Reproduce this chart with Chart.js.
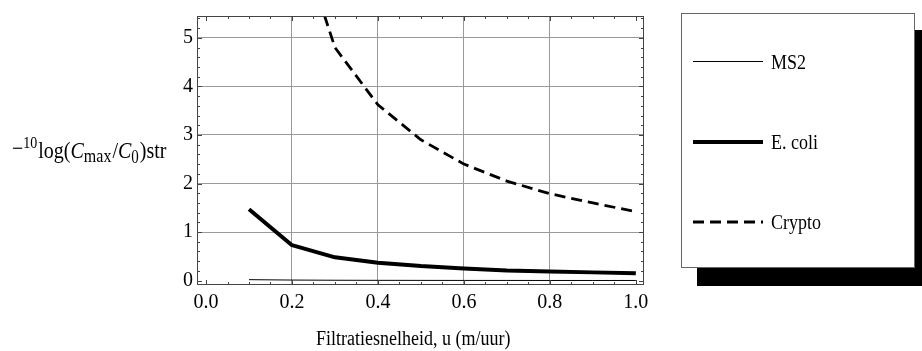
<!DOCTYPE html>
<html><head><meta charset="utf-8">
<script src="https://cdn.jsdelivr.net/npm/chart.js@4.4.1/dist/chart.umd.min.js"></script>
<style>html,body{margin:0;padding:0;background:#fff;}canvas{display:block}</style>
</head><body>
<canvas id="c" width="922" height="351"></canvas>
<script>
// ---- data ----
const xValues = [0.1, 0.2, 0.3, 0.4, 0.5, 0.6, 0.7, 0.8, 0.9, 1.0];
const ms2Values = [0.02, 0.012, 0.008, 0.006, 0.005, 0.004, 0.004, 0.003, 0.003, 0.003];
const ecoliValues = [1.47, 0.73, 0.48, 0.37, 0.30, 0.25, 0.21, 0.19, 0.17, 0.15];
const cryptoValues = [14.4, 7.5, 4.8, 3.62, 2.9, 2.4, 2.05, 1.79, 1.6, 1.42];
const seriesNames = ['MS2', 'E. coli', 'Crypto'];
const xTickValues = [0, 0.2, 0.4, 0.6, 0.8, 1.0];
const yTickValues = [0, 1, 2, 3, 4, 5];
const xTitle = 'Filtratiesnelheid, u (m/uur)';
const yTitleParts = ['\u2212', '10', 'log(', 'C', 'max', '/', 'C', '0', ')str'];

const FONT = '"Liberation Serif", "Times New Roman", serif';
const SY = 1.2;

function pts(vals){ return xValues.map((x,i)=>({x:x, y:vals[i]})); }

function sText(ctx, txt, x, y, size, style, sy){
  ctx.save();
  ctx.font = (style||'') + ' ' + size + 'px ' + FONT;
  const w = ctx.measureText(txt).width;
  ctx.translate(x, y);
  ctx.scale(1, sy||SY);
  ctx.fillText(txt, 0, 0);
  ctx.restore();
  return w;
}

const decor = {
  id: 'decor',
  afterDraw(chart){
    const ctx = chart.ctx, a = chart.chartArea, xs = chart.scales.x, ys = chart.scales.y;
    ctx.save();
    // frame
    ctx.strokeStyle = '#444'; ctx.lineWidth = 1;
    ctx.strokeRect(Math.round(a.left)+0.5, Math.round(a.top)+0.5, Math.round(a.right-a.left)-1, Math.round(a.bottom-a.top)-1);
    // frame ticks
    ctx.beginPath();
    for (let i = 0; i <= 20; i++) {
      const v = i*0.05, px = Math.round(xs.getPixelForValue(v))+0.5;
      const L = (i%4===0) ? 5 : 3;
      ctx.moveTo(px, a.bottom); ctx.lineTo(px, a.bottom-L);
      ctx.moveTo(px, a.top); ctx.lineTo(px, a.top+L);
    }
    for (let i = 0; i <= 27; i++) {
      const v = i*0.2, py = Math.round(ys.getPixelForValue(v))+0.5;
      if (py < a.top || py > a.bottom) continue;
      const L = (i%5===0) ? 5 : 3;
      ctx.moveTo(a.left, py); ctx.lineTo(a.left+L, py);
      ctx.moveTo(a.right, py); ctx.lineTo(a.right-L, py);
    }
    ctx.stroke();

    ctx.fillStyle = '#000';
    ctx.textBaseline = 'alphabetic';
    ctx.textAlign = 'left';
    // x title
    sText(ctx, xTitle, 316, 345, 18);
    // y title (flowing pieces)
    const yb = 158;
    let cx = 12;
    cx += sText(ctx, yTitleParts[0], cx, yb-2, 20);
    cx += sText(ctx, yTitleParts[1], cx, yb-10, 14) + 1;
    cx += sText(ctx, yTitleParts[2], cx, yb, 20);
    cx += sText(ctx, yTitleParts[3], cx, yb, 20, 'italic');
    cx += sText(ctx, yTitleParts[4], cx, yb+4, 16) + 1;
    cx += sText(ctx, yTitleParts[5], cx, yb, 20);
    cx += sText(ctx, yTitleParts[6], cx, yb, 20, 'italic');
    cx += sText(ctx, yTitleParts[7], cx, yb+5, 15) + 1;
    sText(ctx, yTitleParts[8], cx, yb, 20);

    // legend shadow + box
    ctx.fillStyle = '#000';
    ctx.fillRect(697, 30, 240, 256);
    ctx.fillStyle = '#fff';
    ctx.fillRect(681, 13, 234, 255);
    ctx.strokeStyle = '#666'; ctx.lineWidth = 1;
    ctx.strokeRect(681.5, 13.5, 233, 254);
    const rowsY = [61.5, 142, 222];
    chart.data.datasets.forEach((ds, i) => {
      ctx.save();
      ctx.strokeStyle = ds.borderColor;
      ctx.lineWidth = ds.borderWidth;
      ctx.setLineDash(ds.borderDash || []);
      ctx.beginPath();
      ctx.moveTo(693, rowsY[i]); ctx.lineTo(763, rowsY[i]);
      ctx.stroke();
      ctx.restore();
      ctx.fillStyle = '#000';
      sText(ctx, ds.label, 771, rowsY[i]+7, 18);
    });
    ctx.restore();
  }
};

new Chart(document.getElementById('c'), {
  type: 'line',
  data: {
    datasets: [
      { label: seriesNames[0], data: pts(ms2Values), borderColor: '#000', borderWidth: 1, pointRadius: 0, tension: 0, fill: false },
      { label: seriesNames[1], data: pts(ecoliValues), borderColor: '#000', borderWidth: 4, pointRadius: 0, tension: 0, fill: false, borderJoinStyle: 'round' },
      { label: seriesNames[2], data: pts(cryptoValues), borderColor: '#000', borderWidth: 2.8, borderDash: [11, 6], pointRadius: 0, tension: 0, fill: false }
    ]
  },
  options: {
    responsive: false,
    animation: false,
    layout: { padding: { left: 0, top: 10, right: 278, bottom: 0 } },
    plugins: { legend: { display: false }, tooltip: { enabled: false } },
    scales: {
      x: {
        type: 'linear', min: -0.021, max: 1.019,
        afterBuildTicks: s => { s.ticks = xTickValues.map(v => ({ value: v })); },
        afterFit: s => { s.height = 66; },
        ticks: { font: { family: FONT, size: 20 }, color: '#000', padding: 6, maxRotation: 0,
                 callback: v => Number(v).toFixed(1) },
        grid: { drawTicks: false, lineWidth: 1,
                color: c => (c.tick && c.tick.value > 0.01 && c.tick.value < 0.99) ? '#999' : 'rgba(0,0,0,0)' },
        border: { display: false }
      },
      y: {
        type: 'linear', min: -0.09, max: 5.45,
        afterBuildTicks: s => { s.ticks = yTickValues.map(v => ({ value: v })); },
        afterFit: s => { s.width = 197; },
        ticks: { font: { family: FONT, size: 20 }, color: '#000', padding: 4,
                 callback: v => String(v) },
        grid: { drawTicks: false, lineWidth: 1,
                color: c => (c.tick && c.tick.value > 0.5) ? '#999' : 'rgba(0,0,0,0)' },
        border: { display: false }
      }
    }
  },
  plugins: [decor]
});
</script>
</body></html>
